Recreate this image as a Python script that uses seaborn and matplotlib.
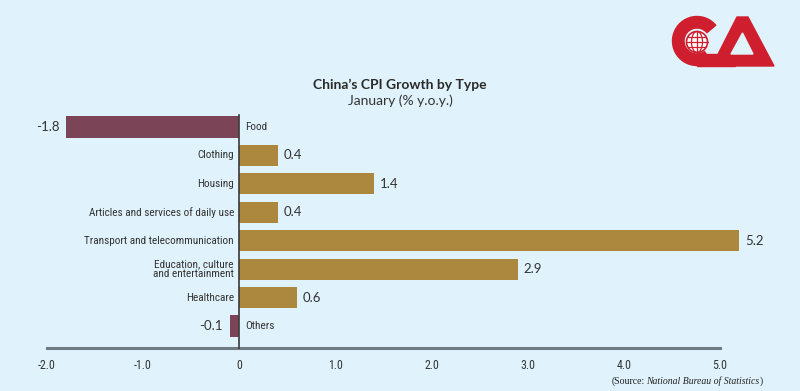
import matplotlib
matplotlib.use("Agg")
import matplotlib.pyplot as plt
import seaborn as sns
import pandas as pd
from matplotlib.patches import Wedge, Polygon, Circle, Ellipse
from matplotlib.transforms import Affine2D
from matplotlib import font_manager

categories = ["Food", "Clothing", "Housing", "Articles and services of daily use",
              "Transport and telecommunication", "Education, culture\nand entertainment",
              "Healthcare", "Others"]
values = [-1.8, 0.4, 1.4, 0.4, 5.2, 2.9, 0.6, -0.1]
value_labels = ["-1.8", "0.4", "1.4", "0.4", "5.2", "2.9", "0.6", "-0.1"]
tick_values = [-2, -1, 0, 1, 2, 3, 4, 5]
tick_labels = ["-2.0", "-1.0", "0", "1.0", "2.0", "3.0", "4.0", "5.0"]

BG = "#E0F2FB"
GOLD = "#AC873E"
MAROON = "#7B4557"
TXT = "#333333"
RED = "#CF1F2E"

sns.set_theme(style="white")
plt.rcParams["font.family"] = ["Lato", "DejaVu Sans"]

names = {f.name for f in font_manager.fontManager.ttflist}
NARROW, NSIZE, TSIZE = "Lato", 7.2, 7.4
for cand in ["Roboto Condensed", "Open Sans Condensed", "Liberation Sans Narrow",
             "DejaVu Sans Condensed"]:
    if cand in names:
        NARROW, NSIZE, TSIZE = cand, 8.1, 8.6
        break

df = pd.DataFrame({"cat": categories, "val": values,
                   "sign": ["neg" if v < 0 else "pos" for v in values]})

W, H = 800, 391
fig = plt.figure(figsize=(W / 100, H / 100), dpi=100, facecolor=BG)

def px(x0, y0, x1, y1):
    return [x0 / W, 1 - y1 / H, (x1 - x0) / W, (y1 - y0) / H]

ax = fig.add_axes(px(30, 110, 790, 350))
ax.set_facecolor(BG)

sns.barplot(data=df, x="val", y="cat", hue="sign", palette={"pos": GOLD, "neg": MAROON},
            dodge=False, width=0.74, legend=False, ax=ax, saturation=1, zorder=2,
            edgecolor="none", linewidth=0)

ppu = (720 - 47) / 7
ax.set_xlim(-2 - (47 - 30) / ppu, 5 + (790 - 720) / ppu)
step = 28.43
ax.set_ylim((350 - 127) / step, (110 - 127) / step)

axis_y = (348 - 127) / step
for s in ["top", "right"]:
    ax.spines[s].set_visible(False)
ax.spines["bottom"].set_position(("data", axis_y))
ax.spines["bottom"].set_bounds(-2, 5)
ax.spines["bottom"].set_color("#6E7B82")
ax.spines["bottom"].set_linewidth(2.2)
ax.spines["left"].set_position(("data", 0))
ax.spines["left"].set_bounds((115 - 127) / step, axis_y)
ax.spines["left"].set_color("#3A3A3A")
ax.spines["left"].set_linewidth(1.2)
ax.spines["left"].set_zorder(3)

ax.set_xticks(tick_values)
ax.set_xticklabels(tick_labels, fontsize=TSIZE, color=TXT, family=NARROW)
ax.tick_params(axis="x", length=0, pad=8)
ax.set_yticks([])
ax.set_xlabel("")
ax.set_ylabel("")

for i, (c, v, lab) in enumerate(zip(categories, values, value_labels)):
    if v >= 0:
        ax.text(-0.055, i, c, ha="right", va="center", fontsize=NSIZE, color=TXT,
                linespacing=1.05, family=NARROW)
        ax.text(v + 0.06, i, lab, ha="left", va="center", fontsize=9.5, color=TXT)
    else:
        ax.text(0.06, i, c, ha="left", va="center", fontsize=NSIZE, color=TXT, family=NARROW)
        ax.text(v - 0.07, i, lab, ha="right", va="center", fontsize=9.5, color=TXT)

fig.text(400 / W, 1 - 85 / H, "China\u2019s CPI Growth by Type", ha="center", va="center",
         fontsize=10, fontweight="bold", color="#2A2A2A")
fig.text(400 / W, 1 - 101 / H, "January (% y.o.y.)", ha="center", va="center",
         fontsize=10, color="#333333")

# source
SS = 7.0
t1 = fig.text(612 / W, 1 - 381 / H, "(Source:", ha="left", va="center", fontsize=SS,
              family="Liberation Serif", color="#222222")
fig.canvas.draw()
bb = t1.get_window_extent()
t2 = fig.text((bb.x1 + 1.0) / W, 1 - 381 / H, "National Bureau of Statistics", ha="left",
              va="center", fontsize=SS, family="Liberation Serif", style="italic",
              color="#222222")
fig.canvas.draw()
bb2 = t2.get_window_extent()
fig.text(bb2.x1 / W, 1 - 381 / H, ")", ha="left", va="center", fontsize=SS,
         family="Liberation Serif", color="#222222")

# logo (pixel coordinates, y down)
tr = Affine2D().scale(1 / 100, -1 / 100).translate(0, H / 100) + fig.dpi_scale_trans
cx, cy = 697, 41
fig.patches.append(Wedge((cx, cy), 24.5, 55, 320, width=11.5, color=RED, transform=tr))
fig.patches.append(Polygon([(697, 54), (735, 54), (735, 66), (697, 66)], closed=True,
                           color=RED, transform=tr))
fig.patches.append(Polygon([(712, 66), (737, 17), (748, 17), (774, 66)], closed=True,
                           color=RED, transform=tr))
fig.patches.append(Polygon([(731, 54), (742.5, 33), (753, 54)], closed=True,
                           color=BG, transform=tr))
fig.patches.append(Circle((cx, 42), 10.5, facecolor="white", edgecolor=RED, lw=1.2,
                          transform=tr))
for dy in (-5, 0, 5):
    hw = (10.5 ** 2 - dy ** 2) ** 0.5
    fig.lines.append(plt.Line2D([cx - hw, cx + hw], [42 + dy, 42 + dy], color=RED, lw=0.9,
                                transform=tr))
fig.lines.append(plt.Line2D([cx, cx], [31.5, 52.5], color=RED, lw=0.9, transform=tr))
fig.patches.append(Ellipse((cx, 42), 11, 21, fill=False, edgecolor=RED, lw=0.9, transform=tr))

fig.savefig("out.png", dpi=100, facecolor=BG)
